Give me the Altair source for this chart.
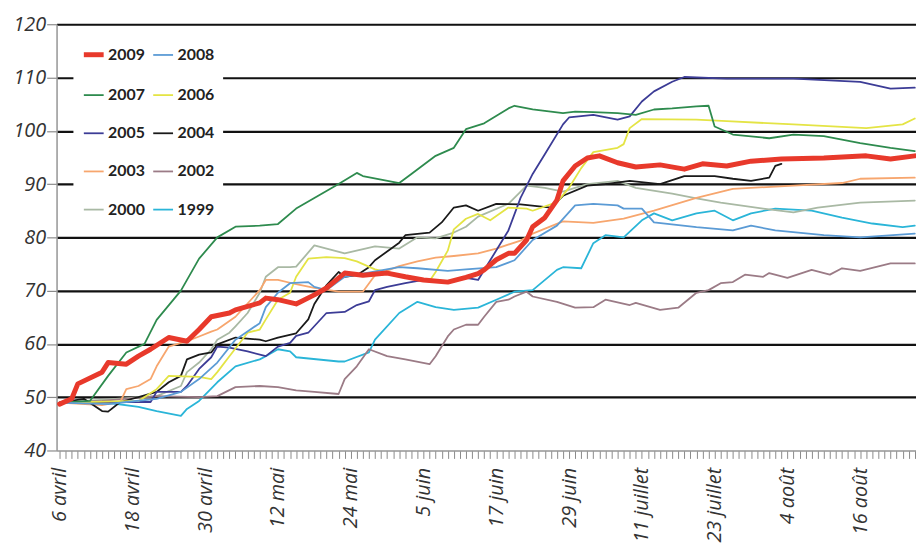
import json
import altair as alt
import pandas as pd

# ---- data ----
years = ["2009", "2008", "2007", "2006", "2005", "2004", "2003", "2002", "2000", "1999"]
colors = ["#e8392b", "#5b9bd5", "#2e8b4e", "#e4e445", "#3c3c96", "#1a1a1a",
          "#f7a66e", "#9b7b86", "#a9b9a4", "#2ab5d8"]
widths = [5, 1.8, 1.8, 1.8, 1.8, 1.8, 1.8, 1.8, 1.8, 1.8]

tick_days = [0, 12, 24, 36, 48, 60, 72, 84, 96, 108, 120, 132]
tick_labels = ["6 avril", "18 avril", "30 avril", "12 mai", "24 mai", "5 juin",
               "17 juin", "29 juin", "11 juillet", "23 juillet", "4 août", "16 août"]

days_2009 = [0, 2, 3, 7, 8, 11, 13, 15, 18, 21, 23, 25, 28, 29, 33, 34, 36, 39, 42, 44, 47, 50, 54, 57, 60, 64, 67, 69, 70, 72, 74, 75, 77, 78, 80, 82, 83, 85, 87, 89, 92, 95, 99, 103, 106, 110, 114, 119, 126, 133, 137, 141]
kg_2009 = [48.7, 49.7, 52.5, 54.7, 56.5, 56.2, 57.7, 59, 61.2, 60.5, 62.7, 65.1, 65.8, 66.4, 67.7, 68.6, 68.3, 67.5, 69.2, 70.5, 73.3, 72.9, 73.3, 72.6, 72, 71.6, 72.5, 73.2, 73.9, 75.8, 77, 77, 79.5, 82, 83.7, 87, 90.6, 93.4, 94.9, 95.3, 94, 93.2, 93.6, 92.8, 93.8, 93.4, 94.3, 94.7, 94.9, 95.3, 94.7, 95.3]

days_2008 = [0, 8, 11, 16, 20, 23, 26, 29, 33, 34, 36, 38, 41, 42, 44, 47, 56, 59, 64, 67, 72, 75, 78, 82, 85, 88, 92, 93, 96, 98, 105, 111, 114, 118, 126, 132, 141]
kg_2008 = [49, 48.7, 49.1, 49.7, 51, 53.4, 56.5, 60.8, 63.9, 66.9, 69.6, 71.4, 71.6, 70.7, 70.1, 72.6, 74.4, 74.2, 73.7, 74, 74.4, 75.7, 79.5, 82.2, 86, 86.3, 86, 85.4, 85.4, 82.8, 81.9, 81.3, 82.2, 81.3, 80.4, 80, 80.7]

days_2007 = [0, 5, 8, 11, 14, 16, 20, 23, 26, 29, 33, 36, 39, 42, 46, 49, 50, 56, 58, 62, 65, 67, 70, 74, 75, 78, 83, 85, 88, 92, 95, 98, 101, 105, 107, 108, 111, 117, 121, 126, 132, 137, 141]
kg_2007 = [49, 49.3, 54, 58.4, 60, 64.5, 70, 76, 80, 82, 82.2, 82.5, 85.4, 87.4, 90, 92.1, 91.5, 90.2, 91.9, 95.3, 96.8, 100.3, 101.4, 104.2, 104.7, 104, 103.3, 103.6, 103.5, 103.3, 103, 104, 104.2, 104.6, 104.7, 100.8, 99.3, 98.6, 99.3, 99, 97.7, 96.8, 96.2]

days_2006 = [0, 13, 16, 18, 23, 25, 26, 28, 31, 33, 34, 36, 38, 39, 41, 44, 47, 49, 52, 56, 59, 61, 62, 64, 65, 67, 69, 71, 74, 77, 78, 82, 84, 86, 88, 92, 93, 94, 96, 105, 110, 121, 133, 139, 141]
kg_2006 = [49, 49.3, 51.5, 54, 53.8, 53.4, 54.7, 57.7, 62.1, 62.7, 64.6, 68.3, 69.6, 72.6, 76, 76.3, 76.1, 75.5, 74, 73, 72.4, 71.8, 73.5, 77.5, 81.5, 83.5, 84.4, 83.2, 85.6, 85.4, 85, 86.6, 89.3, 93, 96, 96.8, 97.5, 100.5, 102.2, 102.1, 101.8, 101.2, 100.5, 101.2, 102.3]

days_2005 = [0, 10, 15, 16, 20, 21, 23, 25, 26, 28, 31, 34, 36, 38, 39, 41, 44, 47, 49, 51, 52, 54, 57, 60, 64, 67, 69, 71, 74, 76, 78, 80, 83, 84, 88, 92, 94, 96, 98, 101, 103, 110, 121, 132, 137, 141]
kg_2005 = [49, 49.1, 49.1, 51, 51, 52.1, 55.3, 57.5, 59.5, 59.3, 58.6, 57.7, 59.5, 60.2, 61.5, 62.1, 65.8, 66, 67.3, 68, 70.1, 70.7, 71.4, 72, 71.4, 72.4, 72, 75.7, 81.3, 87.4, 91.9, 95.6, 101.2, 102.5, 103, 102.1, 102.7, 105.5, 107.4, 109.2, 110.1, 109.8, 109.8, 109.2, 107.9, 108.1]

days_2004 = [0, 4, 7, 8, 10, 13, 16, 18, 20, 21, 23, 25, 26, 29, 33, 34, 36, 39, 41, 42, 44, 46, 47, 49, 51, 52, 56, 57, 61, 63, 65, 67, 69, 72, 76, 81, 83, 87, 90, 94, 99, 103, 108, 111, 114, 117, 118, 119]
kg_2004 = [49, 49.7, 47.4, 47.3, 49.1, 50, 51, 52.8, 54, 57.1, 58, 58.4, 59.9, 61.2, 60.8, 60.5, 61.2, 62, 64.6, 67.5, 71, 73.5, 72.6, 72.9, 74.4, 75.7, 79, 80.4, 80.9, 82.8, 85.6, 86, 85, 86.3, 86.2, 85.6, 87.8, 89.7, 90, 90.6, 90, 91.5, 91.5, 91, 90.6, 91.2, 93.4, 93.8]

days_2003 = [0, 7, 10, 11, 13, 15, 16, 18, 20, 21, 23, 25, 26, 29, 33, 34, 36, 39, 42, 46, 50, 52, 56, 59, 62, 65, 69, 72, 76, 78, 83, 88, 93, 98, 105, 111, 121, 129, 132, 141]
kg_2003 = [49, 48.5, 49.1, 51.5, 52.1, 53.4, 55.8, 59.5, 60.2, 60.5, 61.4, 62.3, 62.7, 65.1, 70.1, 72, 72, 71.2, 70.5, 69.8, 69.8, 72.9, 74.6, 75.5, 76.2, 76.5, 77, 77.9, 79.4, 80.7, 83, 82.7, 83.5, 85, 87.4, 89.1, 89.7, 90.2, 91, 91.2]

days_2002 = [0, 7, 16, 23, 26, 29, 33, 36, 39, 42, 46, 47, 49, 51, 54, 57, 61, 62, 64, 65, 67, 69, 70, 72, 74, 75, 77, 78, 82, 85, 88, 90, 94, 95, 99, 102, 105, 107, 109, 111, 113, 116, 117, 120, 124, 127, 129, 132, 137, 141]
kg_2002 = [49, 49.3, 50.2, 50, 50.2, 51.9, 52.1, 51.9, 51.3, 51, 50.6, 53.4, 55.8, 59, 57.7, 57.1, 56.2, 57.7, 61.4, 62.7, 63.6, 63.6, 65.1, 67.9, 68.3, 68.9, 69.8, 68.9, 67.9, 66.8, 66.9, 68.3, 67.3, 67.7, 66.4, 66.8, 69.6, 70.1, 71.4, 71.6, 73, 72.6, 73.3, 72.4, 73.9, 73, 74.2, 73.7, 75.1, 75.1]

days_2000 = [0, 16, 20, 21, 23, 25, 26, 28, 29, 31, 33, 34, 36, 38, 39, 42, 47, 52, 56, 59, 62, 65, 67, 69, 74, 77, 80, 83, 87, 92, 95, 101, 105, 109, 116, 121, 125, 132, 141]
kg_2000 = [49, 50.2, 52.1, 54.7, 56.5, 59, 60.8, 62.1, 63.3, 65.8, 69.6, 72.6, 74.4, 74.4, 74.5, 78.5, 77, 78.3, 77.9, 80, 79.8, 80.9, 82, 83.9, 86.3, 89.7, 89.3, 88.6, 90, 90.6, 89.3, 88.2, 87.3, 86.5, 85.4, 84.7, 85.6, 86.5, 86.9]

days_1999 = [0, 7, 13, 16, 20, 21, 23, 26, 29, 33, 34, 36, 38, 39, 46, 47, 51, 52, 56, 59, 62, 65, 69, 72, 75, 78, 82, 83, 86, 88, 90, 93, 96, 98, 101, 105, 108, 111, 114, 118, 124, 129, 134, 139, 141]
kg_1999 = [49, 49.1, 48.2, 47.4, 46.5, 47.8, 49.3, 52.8, 55.8, 57.1, 57.7, 59, 58.6, 57.5, 56.7, 56.7, 58.4, 60.8, 65.8, 67.9, 66.9, 66.4, 66.8, 68.3, 69.8, 70.1, 73.9, 74.4, 74.2, 78.9, 80.4, 80, 83.2, 84.5, 83.2, 84.5, 85, 83.2, 84.5, 85.4, 85, 83.7, 82.6, 81.9, 82.2]

series = {
    "2009": (days_2009, kg_2009), "2008": (days_2008, kg_2008), "2007": (days_2007, kg_2007),
    "2006": (days_2006, kg_2006), "2005": (days_2005, kg_2005), "2004": (days_2004, kg_2004),
    "2003": (days_2003, kg_2003), "2002": (days_2002, kg_2002), "2000": (days_2000, kg_2000),
    "1999": (days_1999, kg_1999),
}

# legend fills column by column: reorder so it reads row by row like the reference
legend_order = years[0::2] + years[1::2]
color_of = dict(zip(years, colors))
width_of = dict(zip(years, widths))

rows = []
draw_order = years[::-1]  # 2009 drawn last (on top)
for k, yr in enumerate(draw_order):
    d, v = series[yr]
    for di, vi in zip(d, v):
        rows.append({"year": yr, "day": di, "kg": vi, "z": k})
df = pd.DataFrame(rows)

label_expr = ("datum.value % 12 === 0 ? " + json.dumps(tick_labels, ensure_ascii=False)
              + "[datum.value / 12] : ''")

x_axis = alt.Axis(
    values=list(range(0, 142)), labelExpr=label_expr, labelAngle=-90,
    labelFont="Open Sans", labelFontStyle="italic", labelFontSize=20, labelColor="#333",
    labelPadding=9, labelOverlap=False, labelBound=False, labelFlush=False,
    tickColor="#8a8a8a", tickSize=8, tickWidth=1,
    domainColor="#9a9a9a", domainWidth=1.5, grid=False, title=None,
)
y_axis = alt.Axis(
    values=[40, 50, 60, 70, 80, 90, 100, 110, 120],
    labelFont="Open Sans", labelFontStyle="italic", labelFontSize=20, labelColor="#333",
    labelPadding=1, tickColor="#8a8a8a", tickSize=10, tickWidth=1.2,
    domainColor="#9a9a9a", domainWidth=1.5,
    grid=True,
    gridColor={"condition": {"test": "datum.value === 40", "value": "transparent"}, "value": "#111"},
    gridWidth=2.2, title=None,
)

legend = alt.Legend(
    title=None, orient="none", legendX=17, legendY=10, columns=2,
    fillColor="white", padding=8, symbolType="stroke", symbolSize=400,
    labelFont="Lato", labelFontWeight="bold", labelFontSize=16, labelColor="#222",
    labelOffset=2, rowPadding=19.5, columnPadding=3,
)

chart = alt.Chart(df).mark_line(clip=True, strokeJoin="round", strokeCap="round").encode(
    x=alt.X("day:Q", scale=alt.Scale(domain=[-0.5, 141.2], nice=False, zero=False), axis=x_axis),
    y=alt.Y("kg:Q", scale=alt.Scale(domain=[40, 120], nice=False, zero=False), axis=y_axis),
    color=alt.Color("year:N", scale=alt.Scale(domain=legend_order,
                                              range=[color_of[y] for y in legend_order]),
                    legend=legend),
    strokeWidth=alt.StrokeWidth("year:N", scale=alt.Scale(type="ordinal", domain=legend_order,
                                                          range=[width_of[y] for y in legend_order]),
                                legend=legend),
    order=alt.Order("z:Q"),
    detail="year:N",
).properties(
    width=867, height=430,
    autosize=alt.AutoSizeParams(type="none"),
    padding={"left": 49, "top": 14, "right": 0, "bottom": 96},
    title=alt.TitleParams(
        "Evolution du poids des ruches", font="Open Sans", fontSize=17, fontWeight="bold",
        fontStyle="italic", color="#333", anchor="middle", baseline="alphabetic", offset=9,
    ),
).configure_view(stroke=None).configure(background="white")

chart.save("out.html", embed_options={"renderer": "svg", "actions": False})
